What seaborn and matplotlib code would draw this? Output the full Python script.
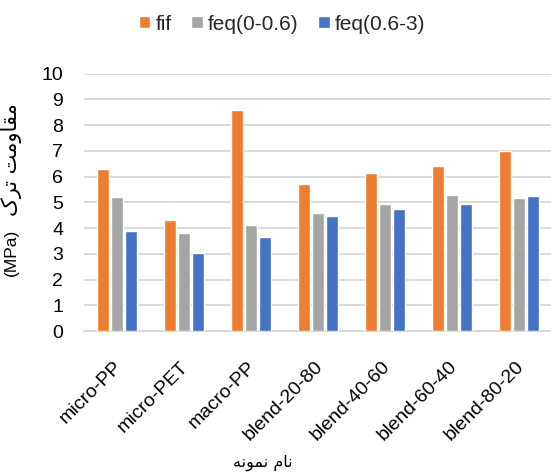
import matplotlib
matplotlib.use("Agg")
import matplotlib.pyplot as plt
from matplotlib.transforms import ScaledTranslation
import seaborn as sns
import pandas as pd

# Sample names on the x axis
samples = ["micro-PP", "micro-PET", "macro-PP", "blend-20-80",
           "blend-40-60", "blend-60-40", "blend-80-20"]
series_names = ["fif", "feq(0-0.6)", "feq(0.6-3)"]

# Crack resistance values (MPa)
fif = [6.30, 4.30, 8.60, 5.70, 6.15, 6.43, 6.98]
feq_0_06 = [5.22, 3.79, 4.11, 4.60, 4.94, 5.28, 5.18]
feq_06_3 = [3.89, 3.02, 3.65, 4.46, 4.76, 4.94, 5.25]

colors = ["#ED7D31", "#A5A5A5", "#4472C4"]

# Persian axis titles (written in visual order with contextual letter forms)
ylabel_fa = "\uFB8E\uFEAE\uFE97 \uFE96\uFEE3\uFEED\uFE8E\uFED8\uFEE3"   # مقاومت ترک
ylabel_unit = "(MPa)"
xlabel_text = "\uFEEA\uFEE7\uFEEE\uFEE4\uFEE7 \uFEE1\uFE8E\uFEE7"       # نام نمونه

df = pd.DataFrame({
    "sample": samples * 3,
    "series": [series_names[0]] * 7 + [series_names[1]] * 7 + [series_names[2]] * 7,
    "value": fif + feq_0_06 + feq_06_3,
})

sns.set_theme(style="white")
plt.rcParams["font.family"] = ["Liberation Sans", "DejaVu Sans"]

W, H = 551, 475
fig = plt.figure(figsize=(W / 100, H / 100), dpi=100)
ax = fig.add_axes([83.5 / W, (H - 331) / H, 469 / W, 257.3 / H])

sns.barplot(data=df, x="sample", y="value", hue="series", order=samples,
            hue_order=series_names, palette=colors, saturation=1,
            width=0.627, gap=0.14, errorbar=None, ax=ax, zorder=3)

ax.set_xlim(-0.5, 6.5)
ax.set_ylim(0, 10)
ax.set_yticks(range(0, 11))
ax.yaxis.grid(True, color="#D9D9D9", linewidth=1.4, zorder=0)
ax.set_axisbelow(True)
for s in ["top", "right", "left"]:
    ax.spines[s].set_visible(False)
ax.spines["bottom"].set_color("#D9D9D9")
ax.spines["bottom"].set_linewidth(1.4)
ax.tick_params(axis="both", length=0, labelsize=14, colors="#000000")
ax.tick_params(axis="y", pad=14.5)
ax.tick_params(axis="x", pad=24)
# rotated labels end slightly right of the group centre
shift = ScaledTranslation(2 / 100, 0, fig.dpi_scale_trans)
for lbl in ax.get_xticklabels():
    lbl.set_rotation(45)
    lbl.set_ha("right")
    lbl.set_va("center")
    lbl.set_rotation_mode("anchor")
    lbl.set_transform(lbl.get_transform() + shift)
ax.set_xlabel("")
ax.set_ylabel("")

handles, labels = ax.get_legend_handles_labels()
ax.get_legend().remove()
fig.legend(handles, labels, loc="center", bbox_to_anchor=(282 / W, 1 - 24 / H),
           ncol=3, frameon=False, fontsize=15, handlelength=0.55,
           handleheight=0.55, handletextpad=0.25, columnspacing=0.95)

fig.text(11.5 / W, 1 - 160 / H, ylabel_fa, rotation=90, ha="center", va="center",
         fontsize=15, family=["DejaVu Sans"], color="#000000")
fig.text(11.5 / W, 1 - 252 / H, ylabel_unit, rotation=90, ha="center", va="center",
         fontsize=12.5, color="#000000")
fig.text(263 / W, 1 - 463 / H, xlabel_text, ha="center", va="center",
         fontsize=11.5, family=["DejaVu Sans"], color="#000000")

fig.savefig("out.png", dpi=100, facecolor="white")
